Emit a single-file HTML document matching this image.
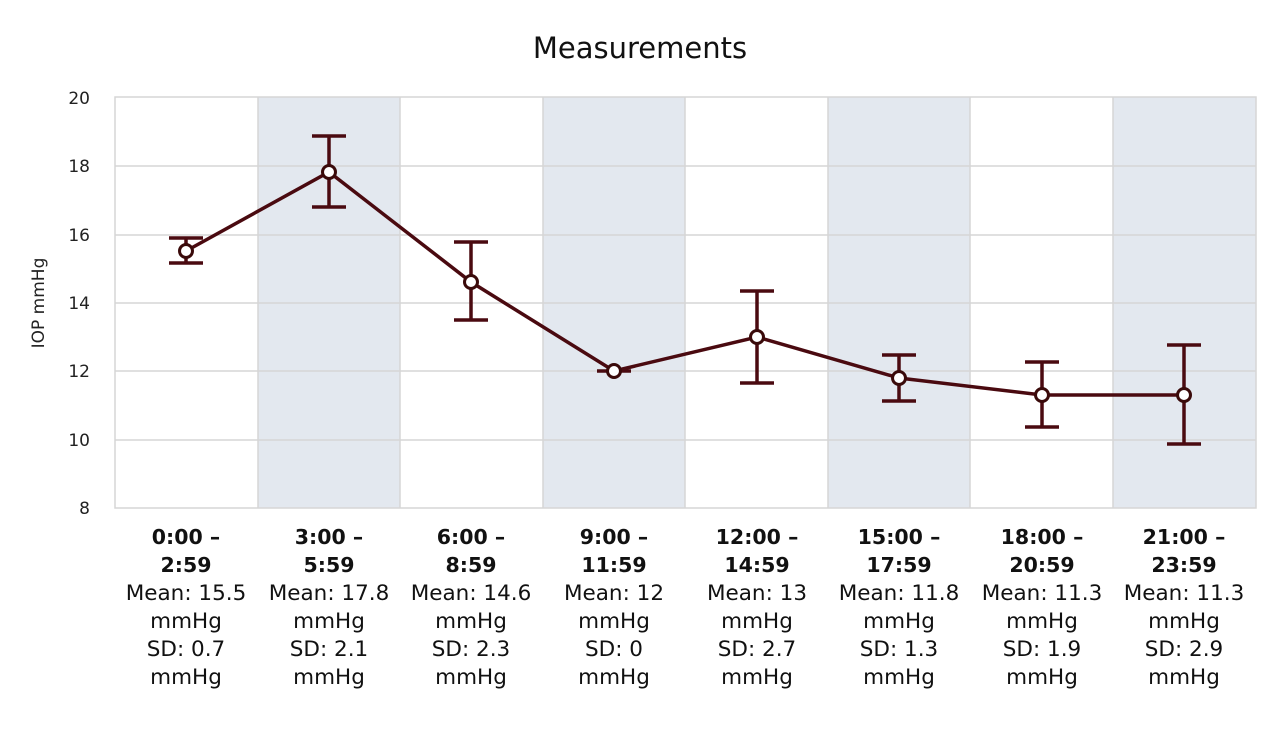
<!DOCTYPE html>
<html><head><meta charset="utf-8"><style>
body{margin:0;background:#fff;}
svg{display:block;font-family:"DejaVu Sans","Liberation Sans",sans-serif;}
</style></head><body>
<svg width="1280" height="744" viewBox="0 0 1280 744">
<text x="640" y="58" text-anchor="middle" font-size="29" fill="#111">Measurements</text>
<g fill="#e3e8ef">
<rect x="258" y="97" width="142" height="411"/>
<rect x="543" y="97" width="142" height="411"/>
<rect x="828" y="97" width="142" height="411"/>
<rect x="1113" y="97" width="143" height="411"/>
</g>
<g stroke="#d6d6d6" stroke-width="1.5" fill="none">
<line x1="115" y1="166" x2="1256" y2="166"/>
<line x1="115" y1="235" x2="1256" y2="235"/>
<line x1="115" y1="303" x2="1256" y2="303"/>
<line x1="115" y1="371" x2="1256" y2="371"/>
<line x1="115" y1="440" x2="1256" y2="440"/>
<line x1="258" y1="97" x2="258" y2="508"/>
<line x1="400" y1="97" x2="400" y2="508"/>
<line x1="543" y1="97" x2="543" y2="508"/>
<line x1="685" y1="97" x2="685" y2="508"/>
<line x1="828" y1="97" x2="828" y2="508"/>
<line x1="970" y1="97" x2="970" y2="508"/>
<line x1="1113" y1="97" x2="1113" y2="508"/>
<rect x="115" y="97" width="1141" height="411"/>
</g>
<g font-size="17" fill="#222" text-anchor="end">
<text x="90" y="104">20</text><text x="90" y="172">18</text><text x="90" y="241">16</text>
<text x="90" y="309">14</text><text x="90" y="377">12</text><text x="90" y="446">10</text><text x="90" y="514">8</text>
</g>
<text transform="translate(44,303) rotate(-90)" text-anchor="middle" font-size="17" fill="#222">IOP mmHg</text>
<g stroke="#4a0a10" stroke-width="3.5" fill="none">
<polyline points="186,251 329,172 471,282 614,371 757,337 899,378 1042,395 1184,395"/>
<path d="M186,238V263M169,238H203M169,263H203"/>
<path d="M329,136V207M312,136H346M312,207H346"/>
<path d="M471,242V320M454,242H488M454,320H488"/>
<path d="M597,371H631"/>
<path d="M757,291V383M740,291H774M740,383H774"/>
<path d="M899,355V401M882,355H916M882,401H916"/>
<path d="M1042,362V427M1025,362H1059M1025,427H1059"/>
<path d="M1184,345V444M1167,345H1201M1167,444H1201"/>
</g>
<g stroke="#3a0a0a" stroke-width="3" fill="#fff">
<circle cx="186" cy="251" r="6.5"/><circle cx="329" cy="172" r="6.5"/><circle cx="471" cy="282" r="6.5"/>
<circle cx="614" cy="371" r="6.5"/><circle cx="757" cy="337" r="6.5"/><circle cx="899" cy="378" r="6.5"/>
<circle cx="1042" cy="395" r="6.5"/><circle cx="1184" cy="395" r="6.5"/>
</g>
<g font-size="21.5" fill="#111" text-anchor="middle">
<g font-weight="bold" font-size="20.5">
<text x="186" y="544">0:00 –</text><text x="186" y="572">2:59</text>
<text x="329" y="544">3:00 –</text><text x="329" y="572">5:59</text>
<text x="471" y="544">6:00 –</text><text x="471" y="572">8:59</text>
<text x="614" y="544">9:00 –</text><text x="614" y="572">11:59</text>
<text x="757" y="544">12:00 –</text><text x="757" y="572">14:59</text>
<text x="899" y="544">15:00 –</text><text x="899" y="572">17:59</text>
<text x="1042" y="544">18:00 –</text><text x="1042" y="572">20:59</text>
<text x="1184" y="544">21:00 –</text><text x="1184" y="572">23:59</text>
</g>
<text x="186" y="600">Mean: 15.5</text><text x="186" y="628">mmHg</text><text x="186" y="656">SD: 0.7</text><text x="186" y="684">mmHg</text>
<text x="329" y="600">Mean: 17.8</text><text x="329" y="628">mmHg</text><text x="329" y="656">SD: 2.1</text><text x="329" y="684">mmHg</text>
<text x="471" y="600">Mean: 14.6</text><text x="471" y="628">mmHg</text><text x="471" y="656">SD: 2.3</text><text x="471" y="684">mmHg</text>
<text x="614" y="600">Mean: 12</text><text x="614" y="628">mmHg</text><text x="614" y="656">SD: 0</text><text x="614" y="684">mmHg</text>
<text x="757" y="600">Mean: 13</text><text x="757" y="628">mmHg</text><text x="757" y="656">SD: 2.7</text><text x="757" y="684">mmHg</text>
<text x="899" y="600">Mean: 11.8</text><text x="899" y="628">mmHg</text><text x="899" y="656">SD: 1.3</text><text x="899" y="684">mmHg</text>
<text x="1042" y="600">Mean: 11.3</text><text x="1042" y="628">mmHg</text><text x="1042" y="656">SD: 1.9</text><text x="1042" y="684">mmHg</text>
<text x="1184" y="600">Mean: 11.3</text><text x="1184" y="628">mmHg</text><text x="1184" y="656">SD: 2.9</text><text x="1184" y="684">mmHg</text>
</g>
</svg>
</body></html>
